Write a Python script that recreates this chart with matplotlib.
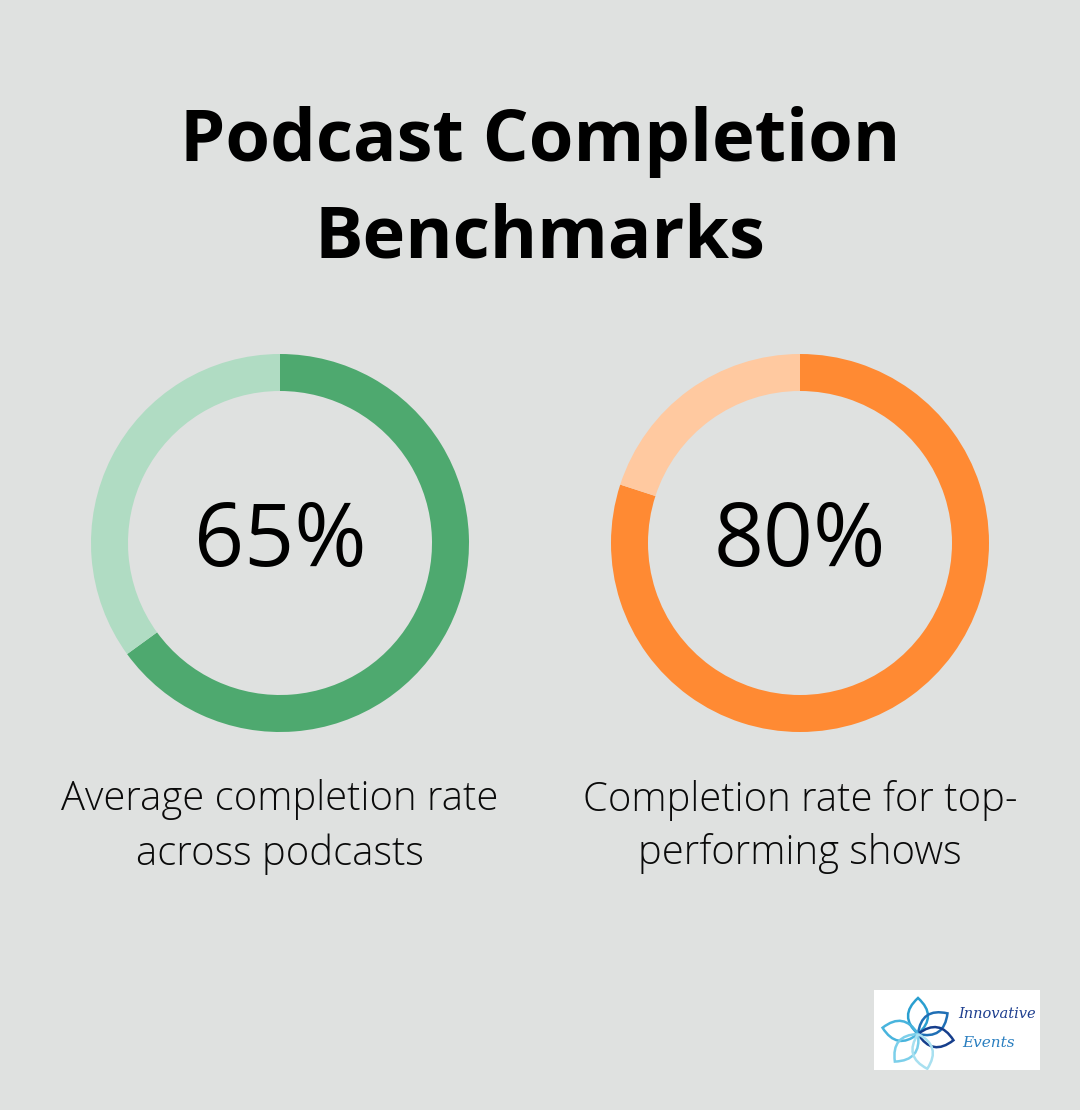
import math
import matplotlib
matplotlib.use("Agg")
import matplotlib.pyplot as plt
from matplotlib.patches import Rectangle, PathPatch
from matplotlib.path import Path

title = "Podcast Completion\nBenchmarks"
values = [65, 80]
labels = ["Average completion rate\nacross podcasts", "Completion rate for top-\nperforming shows"]
main_colors = ["#4EA96F", "#FF8A33"]
light_colors = ["#B0DCC3", "#FFC9A0"]

W, H = 1080, 1110
BG = "#DFE1E0"
fig = plt.figure(figsize=(W / 100, H / 100), dpi=100, facecolor=BG)

def fx(x):
    return x / W

def fy(y):
    return 1 - y / H

fig.text(0.5, fy(190), title, ha="center", va="center", fontsize=52, fontweight="bold",
         family="Open Sans", color="black", linespacing=1.45)

centers = [280, 800]
cy = 543
R = 189
for cx, v, lab, c1, c2 in zip(centers, values, labels, main_colors, light_colors):
    ax = fig.add_axes([fx(cx - R), fy(cy + R), 2 * R / W, 2 * R / H])
    ax.pie([v, 100 - v], colors=[c1, c2], startangle=90, counterclock=False,
           radius=1, wedgeprops=dict(width=37 / R, linewidth=0))
    ax.set_xlim(-1, 1)
    ax.set_ylim(-1, 1)
    ax.set_aspect("equal")
    ax.axis("off")
    fig.text(fx(cx), fy(cy), f"{v}%", ha="center", va="center", fontsize=63,
             family="Open Sans", fontweight="medium", color="black")
    fig.text(fx(cx), fy(827), lab, ha="center", va="center", fontsize=28.8,
             family="Open Sans", fontweight="light", color="#0A0A0A", linespacing=1.41)

# logo
lax = fig.add_axes([fx(874), fy(1070), 166 / W, 80 / H])
lax.set_xlim(0, 166)
lax.set_ylim(0, 80)
lax.axis("off")
lax.add_patch(Rectangle((0, 0), 166, 80, facecolor="white", edgecolor="none"))

def petal(cx0, cy0, ang, L, w):
    a = math.radians(ang)
    tx, ty = cx0 + L * math.cos(a), cy0 + L * math.sin(a)
    mx, my = cx0 + 0.5 * L * math.cos(a), cy0 + 0.5 * L * math.sin(a)
    px, py = -math.sin(a) * w, math.cos(a) * w
    verts = [(cx0, cy0), (mx + px, my + py), (tx, ty), (mx - px, my - py), (cx0, cy0)]
    codes = [Path.MOVETO, Path.CURVE3, Path.CURVE3, Path.CURVE3, Path.CURVE3]
    return Path(verts, codes)

petals = [(90, "#2A9FD0"), (35, "#1F6FB5"), (-10, "#163E8C"), (170, "#48B4DD"),
          (-130, "#7CCFEA"), (-75, "#A8E0F0")]
for ang, pc in petals:
    lax.add_patch(PathPatch(petal(44, 36, ang, 36, 20), facecolor="none", edgecolor=pc, lw=1.8))
lax.text(84, 56, "Innovative", fontsize=10.5, style="italic", color="#1E3F8F",
         family="DejaVu Serif", va="center")
lax.text(88, 27, "Events", fontsize=11, style="italic", color="#2A7FC0",
         family="DejaVu Serif", va="center")

fig.savefig("out.png", dpi=100, facecolor=BG)
